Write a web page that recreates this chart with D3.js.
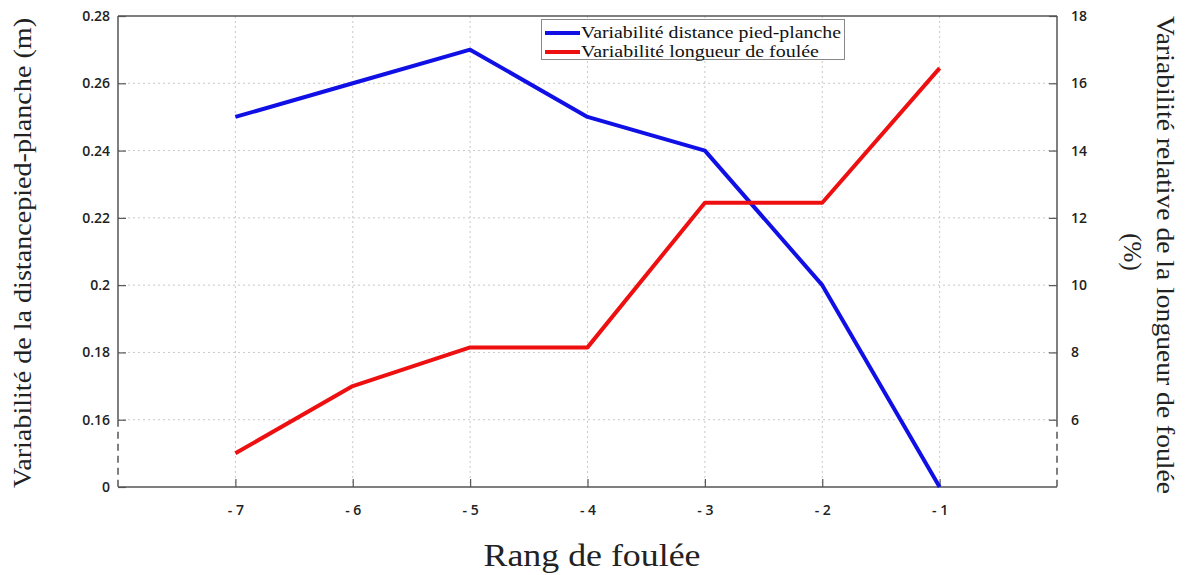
<!DOCTYPE html>
<html>
<head>
<meta charset="utf-8">
<script src="https://cdn.jsdelivr.net/npm/d3@7"></script>
<style>
  html, body { margin: 0; padding: 0; background: #fff; }
  svg { display: block; }
</style>
</head>
<body>
<svg id="chart" width="1185" height="575"></svg>
<script>
// ---- data ----
const categories = [-7, -6, -5, -4, -3, -2, -1];
const xTickLabels = ["- 7", "- 6", "- 5", "- 4", "- 3", "- 2", "- 1"];
const distanceValues = [0.25, 0.26, 0.27, 0.25, 0.24, 0.20, 0];      // left axis (m)
const strideValues = [5.0, 7.0, 8.15, 8.15, 12.45, 12.45, 16.45];     // right axis (%)
const leftTicks = [0, 0.16, 0.18, 0.20, 0.22, 0.24, 0.26, 0.28];
const leftTickLabels = ["0", "0.16", "0.18", "0.2", "0.22", "0.24", "0.26", "0.28"];
const rightTicks = [6, 8, 10, 12, 14, 16, 18];
const seriesNames = ["Variabilité distance pied-planche", "Variabilité longueur de foulée"];

// ---- layout ----
const svg = d3.select("#chart");
const L = 118, R = 1057, T = 16, B = 487;
const breakLeft = 0.16, breakRight = 6;

const x = d3.scaleLinear().domain([-8, 0]).range([L, R]);
// broken left axis: 0 shown directly below 0.16
const yL = d3.scaleLinear().domain([0, 0.16, 0.28]).range([B, B - (B - T) / 7, T]);
const yR = d3.scaleLinear().domain([4, 18]).range([B, T]);

const gridColor = "#c8c8c8";
const axisColor = "#555";
const tickFont = "'Open Sans', 'DejaVu Sans', sans-serif";
const serif = "'Liberation Serif', 'Times New Roman', serif";

// gridlines
const grid = svg.append("g");
grid.selectAll("line.h").data(leftTicks.filter(d => d > 0 && d < 0.28)).join("line")
  .attr("x1", L).attr("x2", R).attr("y1", d => yL(d)).attr("y2", d => yL(d))
  .attr("stroke", gridColor).attr("stroke-width", 1).attr("stroke-dasharray", "2,3");
grid.selectAll("line.v").data(categories).join("line")
  .attr("x1", d => x(d)).attr("x2", d => x(d)).attr("y1", T).attr("y2", B)
  .attr("stroke", gridColor).attr("stroke-width", 1).attr("stroke-dasharray", "2,3");

// axes frame
const frame = svg.append("g").attr("stroke", axisColor).attr("stroke-width", 1.5).attr("fill", "none");
frame.append("line").attr("x1", L).attr("x2", R).attr("y1", T).attr("y2", T);
frame.append("line").attr("x1", L).attr("x2", R).attr("y1", B).attr("y2", B);
frame.append("line").attr("x1", L).attr("x2", L).attr("y1", T).attr("y2", yL(breakLeft));
frame.append("line").attr("x1", L).attr("x2", L).attr("y1", yL(breakLeft)).attr("y2", B).attr("stroke-dasharray", "7,5");
frame.append("line").attr("x1", R).attr("x2", R).attr("y1", T).attr("y2", yR(breakRight));
frame.append("line").attr("x1", R).attr("x2", R).attr("y1", yR(breakRight)).attr("y2", B).attr("stroke-dasharray", "7,5");

// left axis
const leftAxis = d3.axisLeft(yL).tickValues(leftTicks).tickSize(-8).tickPadding(16)
  .tickFormat((d, i) => leftTickLabels[i]);
const gl = svg.append("g").attr("transform", `translate(${L},0)`).call(leftAxis);
gl.select(".domain").remove();
gl.selectAll(".tick line").attr("stroke", axisColor).attr("stroke-width", 1.2);
gl.selectAll(".tick text").attr("font-family", tickFont).attr("font-size", 14).attr("font-weight", 600)
  .attr("fill", "#222").attr("dx", 8);

// right axis
const rightAxis = d3.axisRight(yR).tickValues(rightTicks).tickSize(-8).tickPadding(20)
  .tickFormat(d3.format("d"));
const gr = svg.append("g").attr("transform", `translate(${R},0)`).call(rightAxis);
gr.select(".domain").remove();
gr.selectAll(".tick line").attr("stroke", axisColor).attr("stroke-width", 1.2);
gr.selectAll(".tick text").attr("font-family", tickFont).attr("font-size", 14).attr("font-weight", 600)
  .attr("fill", "#222").attr("dx", -6);

// bottom axis
const bottomAxis = d3.axisBottom(x).tickValues(categories).tickSize(-8).tickPadding(18)
  .tickFormat((d, i) => xTickLabels[i]);
const gb = svg.append("g").attr("transform", `translate(0,${B})`).call(bottomAxis);
gb.select(".domain").remove();
gb.selectAll(".tick line").attr("stroke", axisColor).attr("stroke-width", 1.2);
gb.selectAll(".tick text").attr("font-family", tickFont).attr("font-size", 14).attr("font-weight", 600)
  .attr("fill", "#222");

// series
const lineL = d3.line().x((d, i) => x(categories[i])).y(d => yL(d));
const lineR = d3.line().x((d, i) => x(categories[i])).y(d => yR(d));
svg.append("path").datum(distanceValues).attr("d", lineL)
  .attr("fill", "none").attr("stroke", "#1010e6").attr("stroke-width", 4).attr("stroke-linejoin", "round");
svg.append("path").datum(strideValues).attr("d", lineR)
  .attr("fill", "none").attr("stroke", "#ee1010").attr("stroke-width", 4).attr("stroke-linejoin", "round");

// legend
const lg = svg.append("g");
lg.append("rect").attr("x", 541.5).attr("y", 19.5).attr("width", 303).attr("height", 40)
  .attr("fill", "#fff").attr("stroke", "#888").attr("stroke-width", 1);
const legendColors = ["#1010e6", "#ee1010"];
const legendWidths = [260, 238];
seriesNames.forEach((name, i) => {
  const yy = 33 + i * 19;
  lg.append("line").attr("x1", 545).attr("x2", 580).attr("y1", yy).attr("y2", yy)
    .attr("stroke", legendColors[i]).attr("stroke-width", 4);
  lg.append("text").attr("x", 581).attr("y", yy + 5).text(name)
    .attr("textLength", legendWidths[i]).attr("lengthAdjust", "spacingAndGlyphs")
    .attr("font-family", serif).attr("font-size", 17.5).attr("fill", "#111");
});

// axis titles
svg.append("text").text("Variabilité de la distancepied-planche (m)")
  .attr("transform", `translate(31,253) rotate(-90)`).attr("text-anchor", "middle")
  .attr("textLength", 470).attr("lengthAdjust", "spacingAndGlyphs")
  .attr("font-family", serif).attr("font-size", 25).attr("fill", "#222");
svg.append("text").text("Variabilité relative de la longueur de foulée")
  .attr("transform", `translate(1157,255) rotate(90)`).attr("text-anchor", "middle")
  .attr("textLength", 478).attr("lengthAdjust", "spacingAndGlyphs")
  .attr("font-family", serif).attr("font-size", 25).attr("fill", "#222");
svg.append("text").text("(%)")
  .attr("transform", `translate(1124,252) rotate(90)`).attr("text-anchor", "middle")
  .attr("font-family", serif).attr("font-size", 25).attr("fill", "#222");
svg.append("text").text("Rang de foulée")
  .attr("x", 592).attr("y", 566).attr("text-anchor", "middle")
  .attr("textLength", 217).attr("lengthAdjust", "spacingAndGlyphs")
  .attr("font-family", serif).attr("font-size", 32).attr("fill", "#222");
</script>
</body>
</html>
